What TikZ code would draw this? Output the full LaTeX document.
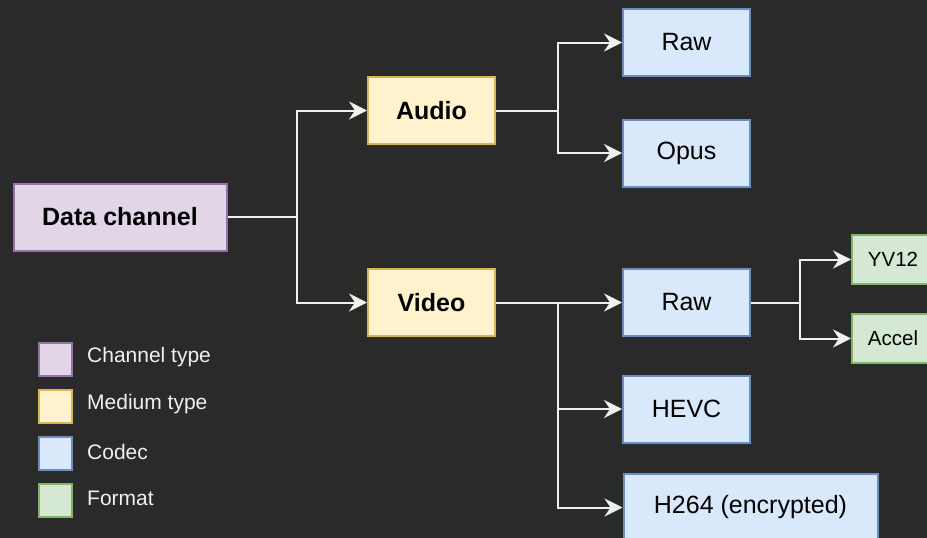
\documentclass[tikz,border=0pt]{standalone}
\usepackage{fontspec}
\setmainfont{Liberation Sans}
\usetikzlibrary{arrows.meta,positioning}
\definecolor{board}{RGB}{42,42,42}
\definecolor{wire}{RGB}{240,240,240}
\definecolor{chanfill}{HTML}{E1D5E7}
\definecolor{chanline}{HTML}{9673A6}
\definecolor{medfill}{HTML}{FFF2CC}
\definecolor{medline}{HTML}{D6B656}
\definecolor{codecfill}{HTML}{DAE8FC}
\definecolor{codecline}{HTML}{6C8EBF}
\definecolor{fmtfill}{HTML}{D5E8D4}
\definecolor{fmtline}{HTML}{82B366}
\tikzset{
  >={Stealth[length=18pt,width=18pt,inset=6pt]},
  box/.style={draw=#1line,fill=#1fill,line width=2pt,minimum width=127pt,
    minimum height=67pt,inner sep=0pt,align=center,text=black,
    font=\fontsize{25}{30}\selectfont},
  box/.default=codec,
  bold box/.style={box=#1,font=\fontsize{25}{30}\selectfont\bfseries},
  fmt box/.style={box=fmt,minimum width=82pt,minimum height=49pt,
    font=\fontsize{20.5}{24}\selectfont},
  link/.style={->,line width=2pt,draw=wire},
  joint/.style={line width=2pt,draw=wire},
  swatch/.style={draw=#1line,fill=#1fill,line width=2pt,minimum size=33pt,inner sep=0pt},
  key/.style={text=wire,anchor=west,inner sep=0pt,font=\fontsize{21}{25}\selectfont},
}
\begin{document}
\begin{tikzpicture}[x=1pt,y=-1pt]
  \fill[board] (0,0) rectangle (927,538);
  \useasboundingbox (0,0) rectangle (927,538);
  % tree of data
  \node[bold box=chan,minimum width=213pt] (dc) at (120,217) {Data channel};
  \node[bold box=med] (audio) at (431.5,110.5) {Audio};
  \node[bold box=med] (video) at (431.5,302.5) {Video};
  \node[box] (araw) at (686.5,42.5) {Raw};
  \node[box] (opus) at (686.5,153) {Opus};
  \node[box] (vraw) at (686.5,302.5) {Raw};
  \node[box] (hevc) at (686.5,409) {HEVC};
  \node[box,minimum width=254pt] (h264) at (750.5,507.5) {H264 (encrypted)};
  \node[fmt box] (yv12) at (893,259.5) {YV12};
  \node[fmt box] (accel) at (893,338.5) {Accel};
  % forks
  \coordinate (dcfork) at (297,217);
  \coordinate (afork) at (558,110.5);
  \coordinate (vfork) at (558,302.5);
  \coordinate (rfork) at (800,302.5);
  \draw[joint] (dc) -- (dcfork);
  \draw[link] (dcfork) |- (audio);
  \draw[link] (dcfork) |- (video);
  \draw[joint] (audio) -- (afork);
  \foreach \n in {araw,opus} \draw[link] (afork) |- (\n);
  \draw[joint] (video) -- (vfork);
  \foreach \n in {vraw,hevc,h264} \draw[link] (vfork) |- (\n);
  \draw[joint] (vraw) -- (rfork);
  \foreach \n in {yv12,accel} \draw[link] (rfork) |- (\n);
  % legend
  \foreach \c/\t/\y in {chan/Channel type/359.5,med/Medium type/406,
      codec/Codec/453.5,fmt/Format/500.5}{
    \node[swatch=\c] (sw-\c) at (55.5,\y) {};
    \node[key] (lg-\c) at (87,\y-2) {\t};
  }
\end{tikzpicture}
\end{document}
